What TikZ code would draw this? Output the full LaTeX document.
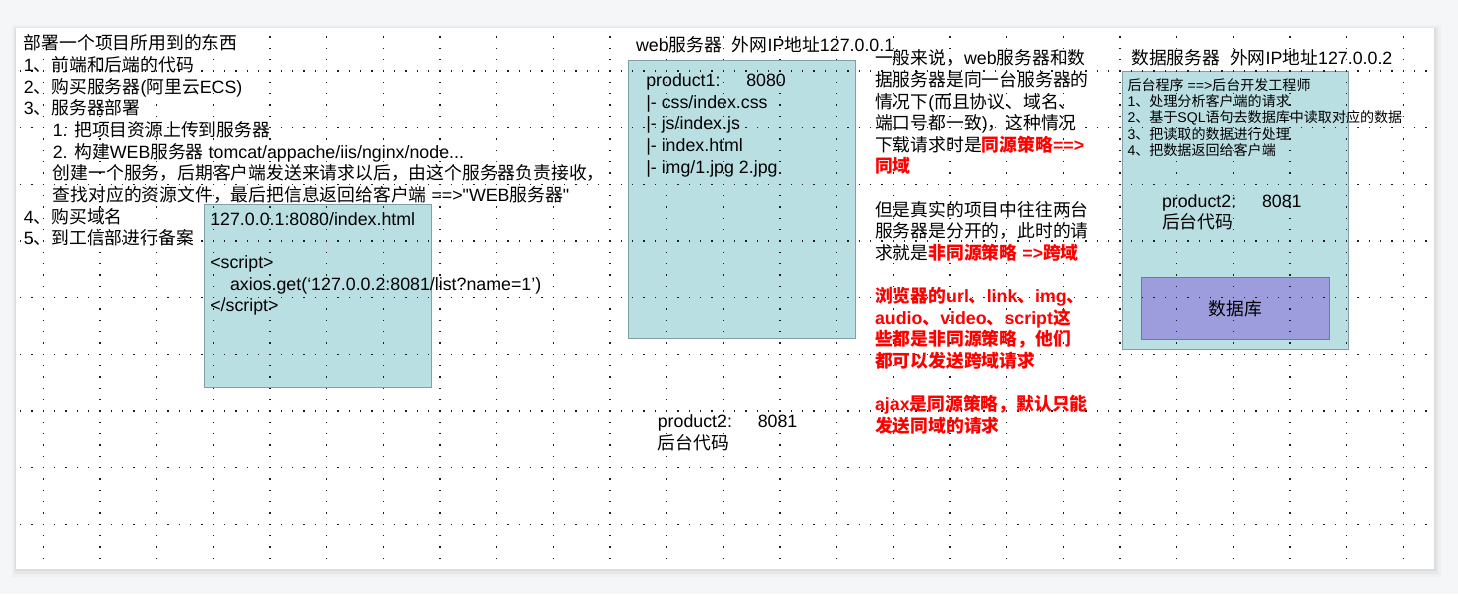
\documentclass[tikz,border=0pt]{standalone}
\usepackage{fontspec}
\setmainfont{Liberation Sans}
\newfontfamily\qfont{Liberation Sans}
\newfontfamily\cjkfont{Noto Sans CJK SC}
\XeTeXinterchartokenstate=1
\newXeTeXintercharclass\CJKcls
\newcount\cjkc
\def\setcjkrange#1#2{\cjkc=#1\relax\loop\XeTeXcharclass\cjkc=\CJKcls\relax\ifnum\cjkc<#2\relax\advance\cjkc by 1\repeat}
\setcjkrange{"3000}{"303F}
\setcjkrange{"4E00}{"9FFF}
\setcjkrange{"FF00}{"FFEF}
\XeTeXinterchartoks 0 \CJKcls = {\cjkfont}
\XeTeXinterchartoks 4095 \CJKcls = {\cjkfont}
\XeTeXinterchartoks \CJKcls 0 = {\rmfamily}
\XeTeXinterchartoks \CJKcls 4095 = {\rmfamily}

\definecolor{bgc}{RGB}{245,246,248}
\definecolor{tealfill}{RGB}{186,223,227}
\definecolor{tealline}{RGB}{128,160,166}
\definecolor{dbfill}{RGB}{157,157,222}
\definecolor{dbline}{RGB}{112,112,204}
\definecolor{redtxt}{RGB}{255,0,0}
\definecolor{dotc}{RGB}{30,30,30}

\newcommand\TL[1]{\hbox{#1}}
\newcommand\Lines[2]{\vtop{\baselineskip=#1\lineskiplimit=-1000pt\lineskip=0pt\relax #2}}
\newcommand\hl[1]{{\color{redtxt}\bfseries #1}}
\newcommand\dq{{\qfont"}}

\tikzset{
  txt/.style={inner sep=0pt, outer sep=0pt, anchor=base west, font=\fontsize{17.8}{21.6}\selectfont},
  smalltxt/.style={txt, font=\fontsize{14.05}{16.4}\selectfont},
  tealbox/.style={draw=tealline, fill=tealfill, line width=1pt, anchor=north west, inner sep=0pt},
  dbbox/.style={draw=dbline, fill=dbfill, line width=1pt, anchor=north west, inner sep=0pt, font=\fontsize{17.8}{21.6}\selectfont},
}

\begin{document}
\begin{tikzpicture}[x=1pt,y=-1pt]
\useasboundingbox (0,0) rectangle (1458,594);
\fill[bgc] (0,0) rectangle (1458,594);
% canvas shadow
\fill[black, opacity=0.025] (12,25) rectangle (1441,577);
\fill[black, opacity=0.035] (14,27) rectangle (1438,574);
\fill[black, opacity=0.04] (15,28) rectangle (1436,571);
\fill[white] (16,28) rectangle (1434,569);

% boxes
\node[tealbox, minimum width=227pt, minimum height=182.4pt] (scriptbox) at (204.3,204.3) {};
\node[tealbox, minimum width=227pt, minimum height=278.3pt] (webbox) at (628.3,60) {};
\node[tealbox, minimum width=226.6pt, minimum height=278.3pt] (databox) at (1121.7,71) {};
\node[dbbox, minimum width=187.7pt, minimum height=62pt] (db) at (1141,277.3) {};

% dotted grid
\foreach \k in {0,...,8} {
  \foreach \m in {0,...,124} {
    \fill[dotc] ({20.07+11.333*\m},{70.4+56.667*\k}) rectangle +(1.2,1.2);
  }
}
\foreach \j in {0,...,24} {
  \foreach \n in {0,...,46} {
    \fill[dotc] ({42.73+56.667*\j},{36.4+11.333*\n}) rectangle +(1.2,1.2);
  }
}

\node[font=\fontsize{17.8}{21.6}\selectfont] (dbtext) at (db.center) {数据库};

% left text
\node[txt] (left) at (23.8,50) {\Lines{21.65pt}{%
\TL{部署一个项目所用到的东西}%
\TL{1、前端和后端的代码}%
\TL{2、购买服务器(阿里云ECS)}%
\TL{3、服务器部署}%
\TL{\hspace*{29pt}1. 把项目资源上传到服务器}%
\TL{\hspace*{29pt}2. 构建WEB服务器 tomcat/appache/iis/nginx/node...}%
\TL{\hspace*{29pt}创建一个服务，后期客户端发送来请求以后，由这个服务器负责接收，}%
\TL{\hspace*{29pt}查找对应的资源文件，最后把信息返回给客户端 ==>\dq WEB服务器\dq}%
\TL{4、购买域名}%
\TL{5、到工信部进行备案}}};

% script box text
\node[txt] (scripttext) at (210.3,225.7) {\Lines{21.5pt}{%
\TL{127.0.0.1:8080/index.html}%
\TL{}%
\TL{<script>}%
\TL{\hspace*{19.8pt}axios.get(‘127.0.0.2:8081/list?name=1’)}%
\TL{</script>}}};

% web server
\node[txt] (weblabel) at (636,52) {web服务器\ \ 外网IP地址127.0.0.1};
\node[txt] (webtext) at (646.3,86.4) {\Lines{21.7pt}{%
\TL{\makebox[100pt][l]{product1:}8080}%
\TL{|- css/index.css}%
\TL{|- js/index.js}%
\TL{|- index.html}%
\TL{|- img/1.jpg 2.jpg}}};

% lower product2
\node[txt] (lowerprod) at (657.8,427) {\Lines{22pt}{%
\TL{\makebox[100pt][l]{product2:}8081}%
\TL{后台代码}}};

% explanation
\node[txt] (note) at (875,64.8) {\Lines{21.6pt}{%
\TL{一般来说，web服务器和数}%
\TL{据服务器是同一台服务器的}%
\TL{情况下(而且协议、域名、}%
\TL{端口号都一致)，这种情况}%
\TL{下载请求时是\hl{同源策略==>}}%
\TL{\hl{同域}}%
\TL{}%
\TL{但是真实的项目中往往两台}%
\TL{服务器是分开的，此时的请}%
\TL{求就是\hl{非同源策略 =>跨域}}%
\TL{}%
\TL{\hl{浏览器的url、link、img、}}%
\TL{\hl{audio、video、script这}}%
\TL{\hl{些都是非同源策略，他们}}%
\TL{\hl{都可以发送跨域请求}}%
\TL{}%
\TL{\hl{ajax是同源策略，默认只能}}%
\TL{\hl{发送同域的请求}}}};

% data server
\node[txt] (datalabel) at (1131.2,65) {数据服务器\ \ 外网IP地址127.0.0.2};
\node[smalltxt] (datalist) at (1127.5,90.1) {\Lines{16.43pt}{%
\TL{后台程序 ==>后台开发工程师}%
\TL{1、处理分析客户端的请求}%
\TL{2、基于SQL语句去数据库中读取对应的数据}%
\TL{3、把读取的数据进行处理}%
\TL{4、把数据返回给客户端}}};
\node[txt] (backend) at (1162,207.4) {\Lines{21.5pt}{%
\TL{\makebox[100pt][l]{product2:}8081}%
\TL{后台代码}}};
\end{tikzpicture}
\end{document}
